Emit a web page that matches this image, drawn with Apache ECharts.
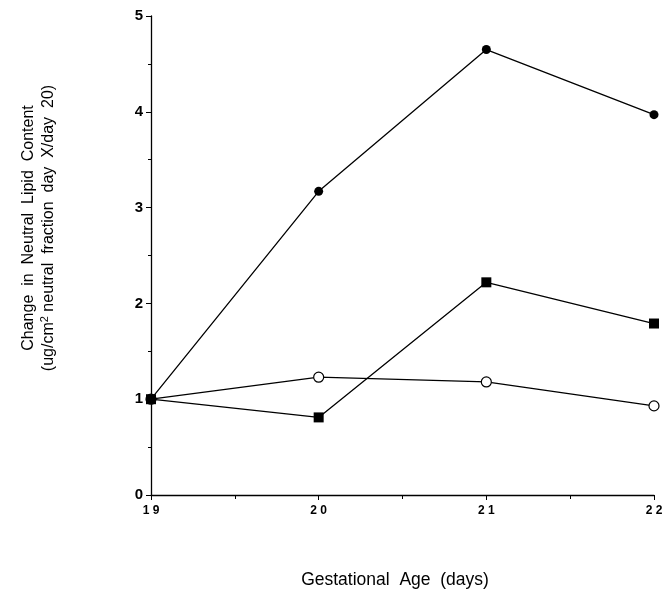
<!DOCTYPE html>
<html><head><meta charset="utf-8">
<script src="https://cdn.jsdelivr.net/npm/echarts@6/dist/echarts.min.js"></script>
<style>html,body{margin:0;padding:0;background:#fff}#c{width:672px;height:592px}</style>
</head><body><div id="c"></div>
<script>
const days = [19, 20, 21, 22];
const xTickLabels = {19: '1 9', 20: '2 0', 21: '2 1', 22: '2 2'};
const filledCircle = [1.0, 3.17, 4.65, 3.97];
const filledSquare = [1.0, 0.81, 2.22, 1.79];
const openCircle = [1.0, 1.23, 1.18, 0.93];

const pair = arr => days.map((d, i) => [d, arr[i]]);
const font = '"Liberation Sans", Arial, sans-serif';
const chart = echarts.init(document.getElementById('c'));
const lineStyle = {color: '#000', width: 1.3};
chart.setOption({
  animation: false,
  backgroundColor: '#fff',
  grid: {left: 151, right: 18, top: 16, bottom: 97},
  xAxis: {
    type: 'value', min: 19, max: 22, interval: 1,
    axisLine: {lineStyle: {color: '#000', width: 1.3}},
    axisTick: {show: true, length: 5, lineStyle: {color: '#000'}},
    minorTick: {show: true, splitNumber: 2, length: 4, lineStyle: {color: '#000'}},
    splitLine: {show: false},
    axisLabel: {color: '#000', fontFamily: font, fontSize: 12, fontWeight: 'bold', margin: 10,
      formatter: v => xTickLabels[v] || ''}
  },
  yAxis: {
    type: 'value', min: 0, max: 5, interval: 1,
    axisLine: {show: true, lineStyle: {color: '#000', width: 1.3}},
    axisTick: {show: true, length: 5, lineStyle: {color: '#000'}},
    minorTick: {show: true, splitNumber: 2, length: 3, lineStyle: {color: '#000'}},
    splitLine: {show: false},
    axisLabel: {color: '#000', fontFamily: font, fontSize: 15, fontWeight: 'bold', margin: 8}
  },
  graphic: [
    {type: 'text', x: 39, y: 228, rotation: Math.PI / 2,
      style: {text: 'Change  in  Neutral  Lipid  Content\n(ug/cm{s|2} neutral  fraction  day  X/day  20)',
        rich: {s: {fontSize: 11, verticalAlign: 'top', padding: [0, 0, 7, 0], fontFamily: font, fill: '#000'}},
        fontFamily: font, fontSize: 16, fill: '#000', align: 'center', verticalAlign: 'middle', lineHeight: 20}},
    {type: 'text', x: 395, y: 580,
      style: {text: 'Gestational  Age  (days)', fontFamily: font, fontSize: 17.5, fill: '#000',
        align: 'center', verticalAlign: 'middle'}}
  ],
  series: [
    {type: 'line', data: pair(openCircle), symbol: 'circle', symbolSize: 10,
      lineStyle, itemStyle: {color: '#fff', borderColor: '#000', borderWidth: 1.2}},
    {type: 'line', data: pair(filledCircle), symbol: 'circle', symbolSize: 9,
      lineStyle, itemStyle: {color: '#000'}},
    {type: 'line', data: pair(filledSquare), symbol: 'rect', symbolSize: 10,
      lineStyle, itemStyle: {color: '#000'}}
  ]
});
</script></body></html>
